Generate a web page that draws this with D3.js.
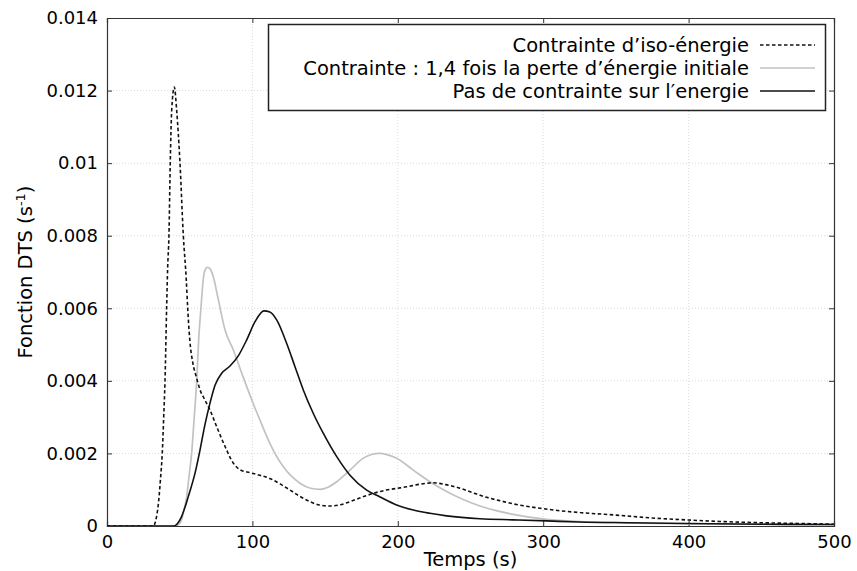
<!DOCTYPE html>
<html><head><meta charset="utf-8">
<script src="https://cdn.jsdelivr.net/npm/d3@7"></script>
<style>body{margin:0;background:#fff}svg{font-family:"DejaVu Sans",sans-serif}</style>
</head><body><svg id="c" width="857" height="571"></svg>
<script>
const isoT=[0,32,33.5,35.3,36.8,38,39,39.9,41,41.7,42.6,43.5,44.5,46.3,47.9,50.2,52.5,54.5,55.5,57,59,61.5,64,67,70.8,75.4,81.2,86.9,91.5,98.3,105,112,119,125.9,132.5,139.6,146,153.4,160,167.1,175,183.2,192,201.5,206.1,215,224.4,233,242.8,252,261.1,270,279.4,297.8,311.6,325.3,350,375,400,425,450,475,500];
const isoV=[0,0,0.00015,0.0006,0.0013,0.002,0.003,0.004,0.006,0.0071,0.008,0.01,0.01146,0.0121,0.01146,0.01,0.008,0.0068,0.006,0.0051,0.0045,0.0041,0.00375,0.0035,0.0032,0.00274,0.00219,0.00173,0.00155,0.00147,0.0014,0.00131,0.00116,0.00099,0.00082,0.00067,0.00058,0.00055,0.00058,0.00067,0.00079,0.0009,0.00099,0.00105,0.00108,0.00115,0.00119,0.00114,0.00104,0.00091,0.00079,0.0007,0.00061,0.00049,0.00042,0.00037,0.0003,0.00022,0.000165,0.00012,0.00009,0.00007,0.00005];
const grayT=[0,47,49.5,51.3,53,54.8,56.5,58.2,60,61.7,63,64.6,66.2,67.4,69,71,73.1,76.6,81.2,86.9,93.7,100.6,105.2,112,121.3,132.7,140,146.5,152,158,167.1,176.3,182,187.8,193,199.2,210.7,222.1,233.6,245,256.5,279.4,302.4,325.3,350,400,450,500];
const grayV=[0,0,0.00005,0.00017,0.00045,0.00081,0.0014,0.002,0.003,0.004,0.0051,0.006,0.0068,0.00705,0.00713,0.00708,0.00687,0.00623,0.0054,0.00485,0.0041,0.00337,0.00292,0.00228,0.00163,0.00118,0.00104,0.00101,0.00107,0.00122,0.00154,0.00187,0.00197,0.002,0.00196,0.00187,0.00154,0.00122,0.00095,0.00073,0.00055,0.00032,0.00018,0.00012,0.00009,0.00006,0.00005,0.00004];
const freeT=[0,46,48.5,51.3,53.5,55.9,60.5,64,67.4,70.8,74.3,78.9,84.6,90.3,96.1,101.8,108,112,116.7,123.6,129.3,135,141.9,148.8,158,167.1,178.6,187.8,199.2,210.7,222,233.6,256.5,279.4,302.4,325,360,400,450,500];
const freeV=[0,0,0.00007,0.00026,0.0005,0.00081,0.00145,0.0021,0.0028,0.00338,0.00388,0.00421,0.00441,0.00469,0.00513,0.00563,0.00593,0.0059,0.00568,0.00503,0.00439,0.00375,0.0031,0.00255,0.00191,0.0014,0.00099,0.0008,0.00058,0.00044,0.00035,0.00028,0.0002,0.00017,0.00014,0.00011,0.00009,0.00007,0.00005,0.00004];
const xTicks=[0,100,200,300,400,500];
const yTicks=[0,0.002,0.004,0.006,0.008,0.01,0.012,0.014];
const yTickLabels=["0","0.002","0.004","0.006","0.008","0.01","0.012","0.014"];
const seriesNames=["Contrainte d\u2019iso-énergie","Contrainte : 1,4 fois la perte d\u2019énergie initiale","Pas de contrainte sur l\u2032energie"];

const svg=d3.select("#c");
const L=107,R=834,T=18,B=526;
const x=d3.scaleLinear().domain([0,500]).range([L,R]);
const y=d3.scaleLinear().domain([0,0.014]).range([B,T]);
const axisCol="#333";
const g=svg.append("g");
g.selectAll("line.gx").data(xTicks.slice(1,-1)).join("line").attr("x1",d=>x(d)).attr("x2",d=>x(d)).attr("y1",T).attr("y2",B).attr("stroke","#d9d9d9").attr("stroke-dasharray","1,2");
g.selectAll("line.gy").data(yTicks.slice(1,-1)).join("line").attr("y1",d=>y(d)).attr("y2",d=>y(d)).attr("x1",L).attr("x2",R).attr("stroke","#d9d9d9").attr("stroke-dasharray","1,2");

const fs=18, fsT=19.5;
const ax=svg.append("g").attr("transform",`translate(0,${B})`).call(d3.axisBottom(x).tickValues(xTicks).tickSize(-5).tickPadding(9).tickFormat(d3.format("d")));
const ay=svg.append("g").attr("transform",`translate(${L},0)`).call(d3.axisLeft(y).tickValues(yTicks).tickSize(-5).tickPadding(9).tickFormat((d,i)=>yTickLabels[i]));
const at=svg.append("g").attr("transform",`translate(0,${T})`).call(d3.axisTop(x).tickValues(xTicks).tickSize(-5).tickFormat(""));
const ar=svg.append("g").attr("transform",`translate(${R},0)`).call(d3.axisRight(y).tickValues(yTicks).tickSize(-5).tickFormat(""));
[ax,ay,at,ar].forEach(a=>{a.select(".domain").attr("stroke",axisCol).attr("stroke-width",1.2);a.selectAll(".tick line").attr("stroke",axisCol);a.selectAll("text").attr("font-size",fs).attr("fill","#000").attr("font-family","DejaVu Sans");});

const line=d3.line().x(d=>x(d[0])).y(d=>y(d[1])).curve(d3.curveMonotoneX);
svg.append("clipPath").attr("id","cp").append("rect").attr("x",L).attr("y",T).attr("width",R-L).attr("height",B-T);
const lg=svg.append("g").attr("clip-path","url(#cp)");
lg.append("path").datum(d3.zip(grayT,grayV)).attr("d",line).attr("fill","none").attr("stroke","#c2c2c2").attr("stroke-width",1.7);
lg.append("path").datum(d3.zip(freeT,freeV)).attr("d",line).attr("fill","none").attr("stroke","#111").attr("stroke-width",1.6);
lg.append("path").datum(d3.zip(isoT,isoV)).attr("d",line).attr("fill","none").attr("stroke","#111").attr("stroke-width",1.6).attr("stroke-dasharray","3.5,2.5");

const leg=svg.append("g");
leg.append("rect").attr("x",268.5).attr("y",24.5).attr("width",557).attr("height",86).attr("fill","#fff").attr("stroke","#222").attr("stroke-width",1.5);
const styles=[{c:"#111",d:"3.5,2.5"},{c:"#c2c2c2",d:null},{c:"#111",d:null}];
seriesNames.forEach((n,i)=>{
  const yy=45+i*23;
  leg.append("text").attr("x",749).attr("y",yy).attr("dy","0.35em").attr("text-anchor","end").attr("font-size",fsT).text(n);
  leg.append("line").attr("x1",760).attr("x2",815).attr("y1",yy).attr("y2",yy).attr("stroke",styles[i].c).attr("stroke-width",1.6).attr("stroke-dasharray",styles[i].d);
});

svg.append("text").attr("x",(L+R)/2).attr("y",566).attr("text-anchor","middle").attr("font-size",fsT).text("Temps (s)");
const yt=svg.append("text").attr("transform",`translate(32,${(T+B)/2}) rotate(-90)`).attr("text-anchor","middle").attr("font-size",fsT);
yt.append("tspan").text("Fonction DTS (s");
yt.append("tspan").attr("baseline-shift","super").attr("font-size",13).text("-1");
yt.append("tspan").text(")");
</script></body></html>
